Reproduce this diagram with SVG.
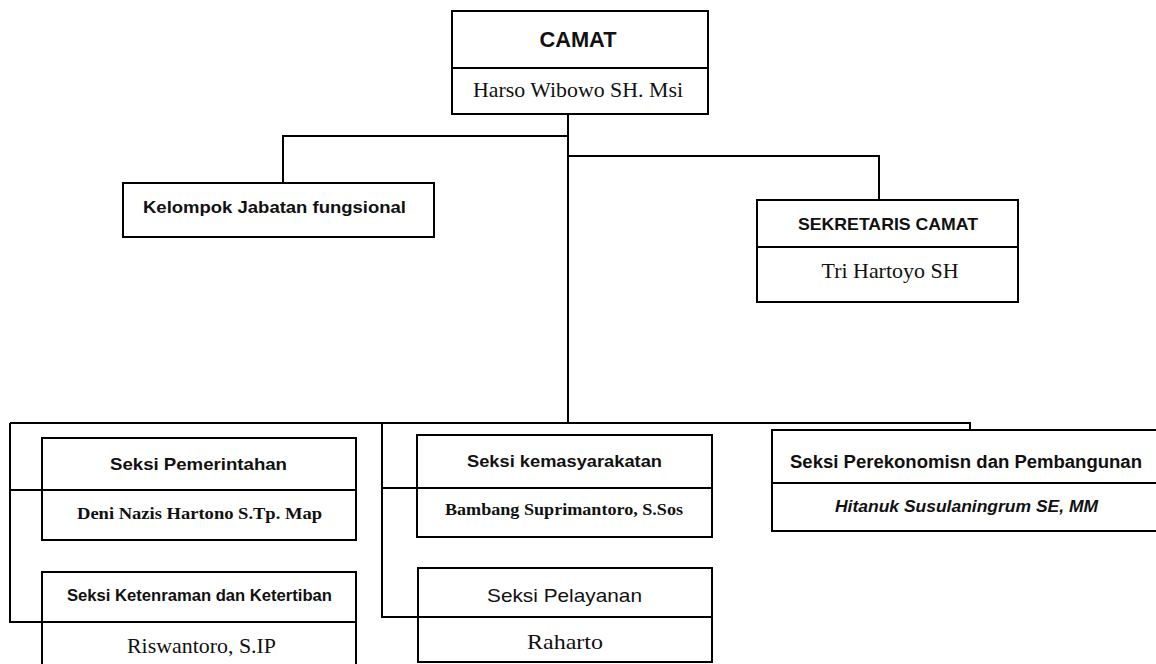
<svg xmlns="http://www.w3.org/2000/svg" width="1156" height="664" viewBox="0 0 1156 664">
<style>
.box{fill:#fff;stroke:#000;stroke-width:2}
.div{stroke:#000;stroke-width:2}
.con{fill:none;stroke:#000;stroke-width:2}
.h{font-family:"Liberation Sans",Arial,sans-serif;font-weight:bold;fill:#111;text-anchor:middle}
.n{font-family:"Liberation Serif","Times New Roman",serif;fill:#111;text-anchor:middle}
</style>
<rect width="1156" height="664" fill="#fff"/>
<g id="connectors">
<path class="con" d="M568,114 V423"/>
<path class="con" d="M568,136 H283 V183"/>
<path class="con" d="M568,156 H879 V200"/>
<path class="con" d="M10,423 H970 V430"/>
<path class="con" d="M10,423 V622 H42"/>
<path class="con" d="M10,490 H42"/>
<path class="con" d="M382,423 V617 H418"/>
<path class="con" d="M382,488 H417"/>
</g>
<g id="camat">
<rect class="box" x="452" y="11" width="256" height="103"/>
<line class="div" x1="452" y1="68" x2="708" y2="68"/>
<text class="h" x="578" y="47" font-size="22" textLength="77" lengthAdjust="spacingAndGlyphs">CAMAT</text>
<text class="n" x="578" y="97" font-size="22" textLength="210" lengthAdjust="spacingAndGlyphs">Harso Wibowo SH. Msi</text>
</g>
<g id="kelompok">
<rect class="box" x="123" y="183" width="311" height="54"/>
<text class="h" x="274.5" y="213" font-size="17" textLength="263" lengthAdjust="spacingAndGlyphs">Kelompok Jabatan fungsional</text>
</g>
<g id="sekretaris">
<rect class="box" x="757" y="200" width="261" height="102"/>
<line class="div" x1="757" y1="247" x2="1018" y2="247"/>
<text class="h" x="888" y="230" font-size="17" textLength="180" lengthAdjust="spacingAndGlyphs">SEKRETARIS CAMAT</text>
<text class="n" x="890" y="278" font-size="21" textLength="137" lengthAdjust="spacingAndGlyphs">Tri Hartoyo SH</text>
</g>
<g id="pemerintahan">
<rect class="box" x="42" y="438" width="314" height="102"/>
<line class="div" x1="42" y1="490" x2="356" y2="490"/>
<text class="h" x="198.5" y="470" font-size="17" textLength="177" lengthAdjust="spacingAndGlyphs">Seksi Pemerintahan</text>
<text class="n" x="199.5" y="519" font-size="17" font-weight="bold" textLength="245" lengthAdjust="spacingAndGlyphs">Deni Nazis Hartono S.Tp. Map</text>
</g>
<g id="ketenraman">
<rect class="box" x="42" y="572" width="314" height="100"/>
<line class="div" x1="42" y1="622" x2="356" y2="622"/>
<text class="h" x="199.5" y="601" font-size="16" textLength="265" lengthAdjust="spacingAndGlyphs">Seksi Ketenraman dan Ketertiban</text>
<text class="n" x="201.5" y="653" font-size="21" textLength="149" lengthAdjust="spacingAndGlyphs">Riswantoro, S.IP</text>
</g>
<g id="kemasyarakatan">
<rect class="box" x="417" y="435" width="295" height="102"/>
<line class="div" x1="417" y1="488" x2="712" y2="488"/>
<text class="h" x="564.5" y="467" font-size="17" textLength="195" lengthAdjust="spacingAndGlyphs">Seksi kemasyarakatan</text>
<text class="n" x="564" y="515" font-size="16" font-weight="bold" textLength="238" lengthAdjust="spacingAndGlyphs">Bambang Suprimantoro, S.Sos</text>
</g>
<g id="pelayanan">
<rect class="box" x="418" y="568" width="294" height="94"/>
<line class="div" x1="418" y1="617" x2="712" y2="617"/>
<text class="h" x="564.5" y="602" font-size="19" style="font-weight:normal" textLength="155" lengthAdjust="spacingAndGlyphs">Seksi Pelayanan</text>
<text class="n" x="565" y="649" font-size="22" textLength="76" lengthAdjust="spacingAndGlyphs">Raharto</text>
</g>
<g id="perekonomian">
<rect class="box" x="772" y="430" width="400" height="101"/>
<line class="div" x1="772" y1="483" x2="1172" y2="483"/>
<text class="h" x="966" y="468" font-size="18" textLength="352" lengthAdjust="spacingAndGlyphs">Seksi Perekonomisn dan Pembangunan</text>
<text class="h" x="966.5" y="512" font-size="16" font-style="italic" textLength="263" lengthAdjust="spacingAndGlyphs">Hitanuk Susulaningrum SE, MM</text>
</g>
</svg>
